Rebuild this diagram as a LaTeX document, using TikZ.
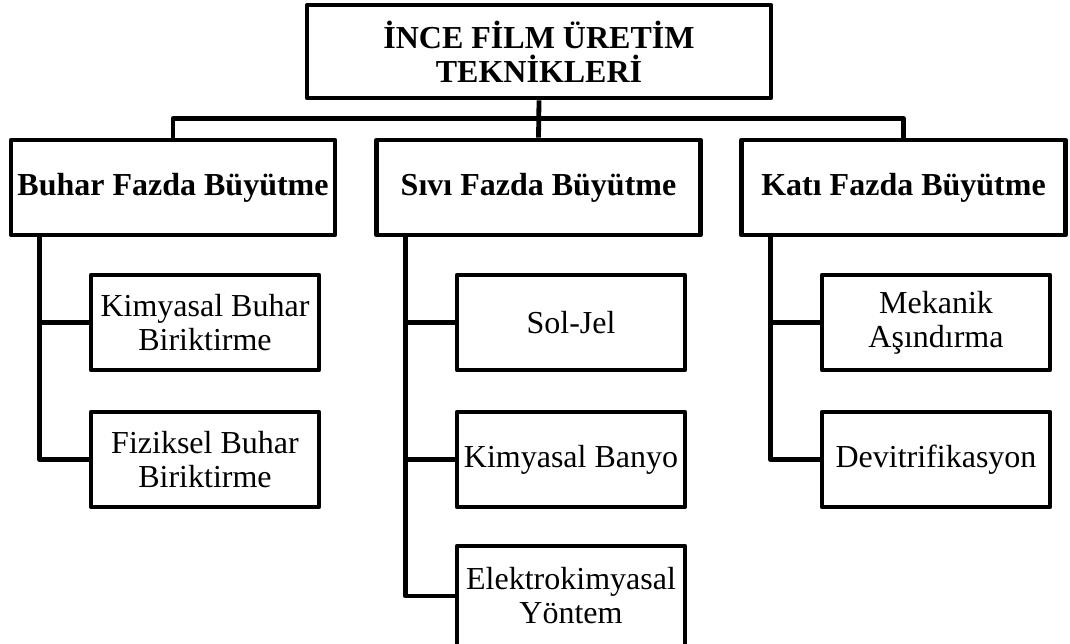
\documentclass[tikz,border=0pt]{standalone}
\usepackage{fontspec}
\setmainfont{Liberation Serif}
\usepackage{tikz}
\usetikzlibrary{positioning}

\begin{document}
\begin{tikzpicture}[x=1pt, y=-1pt, line width=4.8pt, line join=round,
    headbox/.style={draw, rectangle, align=center, inner sep=0pt,
        font=\fontsize{32}{34}\selectfont\bfseries, minimum width=464pt, minimum height=93pt},
    groupbox/.style={draw, rectangle, align=center, inner sep=0pt,
        font=\fontsize{32}{34}\selectfont\bfseries, minimum width=324pt, minimum height=95pt},
    methodbox/.style={draw, rectangle, align=center, inner sep=0pt,
        font=\fontsize{32}{34}\selectfont, minimum width=228pt, minimum height=95pt}]
    \useasboundingbox (0,0) rectangle (1070,643);

    % Title
    \node[headbox] (top) at (539,51.5) {İNCE FİLM ÜRETİM\\TEKNİKLERİ};

    % Growth phases
    \node[groupbox] (buhar) at (173,187.5) {Buhar Fazda Büyütme};
    \node[groupbox] (sivi) at (538.5,187.5) {Sıvı Fazda Büyütme};
    \node[groupbox] (kati) at (903.5,187.5) {Katı Fazda Büyütme};

    % Methods - vapour
    \node[methodbox] (kbb) at (205,322.5) {Kimyasal Buhar\\Biriktirme};
    \node[methodbox] (fbb) at (205,459.5) {Fiziksel Buhar\\Biriktirme};

    % Methods - liquid
    \node[methodbox] (soljel) at (571,322.5) {Sol-Jel};
    \node[methodbox] (banyo) at (571,459.5) {Kimyasal Banyo};
    \node[methodbox, minimum height=100pt] (elektro) at (571,596) {Elektrokimyasal\\Yöntem};

    % Methods - solid
    \node[methodbox] (mekanik) at (936,322.5) {Mekanik\\Aşındırma};
    \node[methodbox] (devitri) at (936,459.5) {Devitrifikasyon};

    % Tree lines
    \coordinate (bar) at (538.5,118.5);
    \draw (top.south) -- (sivi.north);
    \draw (buhar.north) |- (bar) -| (kati.north);

    \foreach \g/\m in {buhar/kbb, buhar/fbb, sivi/soljel, sivi/banyo, sivi/elektro, kati/mekanik, kati/devitri} {
        \draw ([xshift=31pt]\g.south west) |- (\m.west);
    }
\end{tikzpicture}
\end{document}
